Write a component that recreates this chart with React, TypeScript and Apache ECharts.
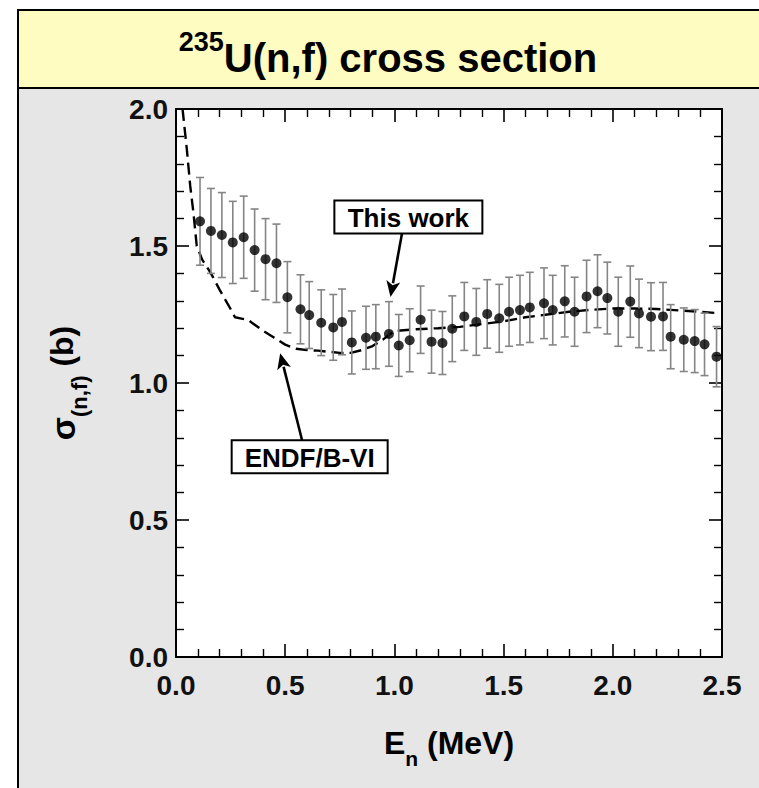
import React, { useEffect, useRef } from "react";
import * as echarts from "echarts";

// ---- Data ----
const energies = [
  0.11, 0.16, 0.21, 0.26, 0.31, 0.36, 0.41, 0.46, 0.51, 0.57, 0.61, 0.665,
  0.72, 0.76, 0.805, 0.87, 0.915, 0.975, 1.02, 1.07, 1.12, 1.17, 1.22, 1.265,
  1.32, 1.375, 1.425, 1.48, 1.525, 1.575, 1.62, 1.685, 1.725, 1.78, 1.825,
  1.88, 1.93, 1.975, 2.025, 2.08, 2.12, 2.175, 2.23, 2.265, 2.325, 2.375,
  2.42, 2.475,
];
const sigma = [
  1.59, 1.555, 1.54, 1.513, 1.532, 1.485, 1.452, 1.437, 1.313, 1.269, 1.248,
  1.22, 1.203, 1.223, 1.148, 1.165, 1.169, 1.179, 1.137, 1.156, 1.231, 1.151,
  1.146, 1.198, 1.243, 1.223, 1.252, 1.236, 1.26, 1.266, 1.276, 1.291, 1.266,
  1.298, 1.26, 1.316, 1.335, 1.31, 1.26, 1.297, 1.254, 1.242, 1.243, 1.169,
  1.158, 1.153, 1.141, 1.096,
];
const sigmaErr = [
  0.16, 0.155, 0.155, 0.15, 0.15, 0.15, 0.148, 0.143, 0.13, 0.126, 0.122,
  0.12, 0.12, 0.12, 0.115, 0.115, 0.117, 0.118, 0.113, 0.115, 0.123, 0.115,
  0.115, 0.12, 0.124, 0.122, 0.125, 0.124, 0.126, 0.127, 0.128, 0.129, 0.127,
  0.13, 0.126, 0.132, 0.133, 0.131, 0.126, 0.13, 0.125, 0.124, 0.124, 0.117,
  0.116, 0.115, 0.114, 0.11,
];
const endfE = [
  0.03, 0.05, 0.065, 0.08, 0.095, 0.12, 0.16, 0.2, 0.25, 0.27, 0.3, 0.33, 0.4,
  0.45, 0.5, 0.55, 0.6, 0.65, 0.7, 0.75, 0.8, 0.85, 0.9, 0.95, 1.0, 1.1, 1.2,
  1.3, 1.4, 1.5, 1.6, 1.7, 1.8, 1.9, 2.0, 2.1, 2.2, 2.3, 2.4, 2.48,
];
const endfSigma = [
  2.0, 1.85, 1.72, 1.62, 1.5, 1.45, 1.4, 1.34, 1.27, 1.24, 1.235, 1.23, 1.19,
  1.165, 1.14, 1.125, 1.12, 1.118, 1.114, 1.11, 1.11, 1.12, 1.135, 1.16, 1.19,
  1.196, 1.2, 1.205, 1.215, 1.225, 1.24, 1.25, 1.26, 1.267, 1.272, 1.272,
  1.27, 1.265, 1.26, 1.255,
];
const xTicks = [0, 2.5, 0.5];
const yTicks = [0, 2.0, 0.5];

const titleSup = "235";
const titleMain = "U(n,f) cross section";
const yLabel = ["σ", "(n,f)", " (b)"];
const xLabel = ["E", "n", " (MeV)"];

const FONT = "'Liberation Sans', Arial, Helvetica, sans-serif";

export default function App() {
  const ref = useRef<HTMLDivElement>(null);

  useEffect(() => {
    document.body.style.margin = "0";
    if (!ref.current) return;
    const chart = echarts.init(ref.current, null, { renderer: "svg" });

    const axisCommon = {
      type: "value",
      axisLine: { show: true, onZero: false, lineStyle: { color: "#000", width: 2 } },
      axisTick: { show: true, inside: true, length: 13, lineStyle: { color: "#000", width: 1.6 } },
      minorTick: { show: true, splitNumber: 5, length: 8, lineStyle: { color: "#000", width: 1.4 } },
      splitLine: { show: false },
      minorSplitLine: { show: false },
    };
    const labelStyle = {
      fontFamily: FONT,
      fontWeight: "bold",
      fontSize: 28,
      color: "#111",
      formatter: (v: number) => v.toFixed(1),
    };

    const errData = energies.map((e, i) => [e, sigma[i], sigmaErr[i]]);
    const ptData = energies.map((e, i) => [e, sigma[i]]);
    const endfData = endfE.map((e, i) => [e, endfSigma[i]]);

    const tok = (size: number, lh: number, va: string) => ({
      fontSize: size,
      fontWeight: "bold",
      fontFamily: FONT,
      lineHeight: lh,
      verticalAlign: va,
      fill: "#000",
    });

    const bgGraphics: any[] = [
      {
        id: "band",
        type: "rect",
        z: -10,
        shape: { x: 18, y: 10, width: 760, height: 78 },
        style: { fill: "#fffcc2", stroke: "#000", lineWidth: 2 },
      },
      {
        id: "panel",
        type: "rect",
        z: -10,
        shape: { x: 18, y: 88, width: 760, height: 720 },
        style: { fill: "#e6e6e6", stroke: "#000", lineWidth: 2 },
      },
      {
        id: "title",
        type: "text",
        z: 10,
        x: 388,
        y: 53,
        style: {
          text: `{s|${titleSup}}{m|${titleMain}}`,
          align: "center",
          verticalAlign: "middle",
          fill: "#000",
          rich: {
            s: tok(27, 30, "top"),
            m: tok(40, 50, "bottom"),
          },
        },
      },
      {
        id: "ylabel",
        type: "text",
        z: 10,
        x: 68,
        y: 383,
        rotation: Math.PI / 2,
        style: {
          text: `{g|${yLabel[0]}}{s|${yLabel[1]}}{m|${yLabel[2]}}`,
          align: "center",
          verticalAlign: "middle",
          fill: "#000",
          rich: {
            g: tok(34, 36, "top"),
            s: tok(22, 44, "bottom"),
            m: tok(32, 36, "top"),
          },
        },
      },
      {
        id: "xlabel",
        type: "text",
        z: 10,
        x: 449,
        y: 727,
        style: {
          text: `{m|${xLabel[0]}}{s|${xLabel[1]}}{m|${xLabel[2]}}`,
          align: "center",
          verticalAlign: "top",
          fill: "#000",
          rich: {
            s: tok(21, 42, "bottom"),
            m: tok(32, 36, "top"),
          },
        },
      },
    ];

    chart.setOption({
      animation: false,
      backgroundColor: "#fff",
      grid: { left: 176, right: 37, top: 109, bottom: 131, show: true, backgroundColor: "#fff", borderWidth: 0 },
      xAxis: [
        {
          ...axisCommon,
          position: "bottom",
          min: xTicks[0],
          max: xTicks[1],
          interval: xTicks[2],
          axisLabel: { ...labelStyle, margin: 14 },
        },
        {
          ...axisCommon,
          position: "top",
          min: xTicks[0],
          max: xTicks[1],
          interval: xTicks[2],
          axisLabel: { show: false },
        },
      ],
      yAxis: [
        {
          ...axisCommon,
          position: "left",
          min: yTicks[0],
          max: yTicks[1],
          interval: yTicks[2],
          axisLabel: { ...labelStyle, margin: 8 },
        },
        {
          ...axisCommon,
          position: "right",
          min: yTicks[0],
          max: yTicks[1],
          interval: yTicks[2],
          axisLabel: { show: false },
        },
      ],
      series: [
        {
          type: "line",
          name: "ENDF/B-VI",
          data: endfData,
          showSymbol: false,
          symbol: "none",
          smooth: false,
          clip: true,
          lineStyle: { color: "#000", width: 2.4, type: [12, 6] },
          z: 3,
        },
        {
          type: "custom",
          name: "errors",
          data: errData,
          z: 4,
          renderItem: (params: any, api: any) => {
            const x = api.value(0);
            const y = api.value(1);
            const e = api.value(2);
            const top = api.coord([x, y + e]);
            const bot = api.coord([x, y - e]);
            const cap = 4;
            const st = { stroke: "#858585", lineWidth: 1.6 };
            return {
              type: "group",
              children: [
                { type: "line", shape: { x1: top[0], y1: top[1], x2: bot[0], y2: bot[1] }, style: st },
                { type: "line", shape: { x1: top[0] - cap, y1: top[1], x2: top[0] + cap, y2: top[1] }, style: st },
                { type: "line", shape: { x1: bot[0] - cap, y1: bot[1], x2: bot[0] + cap, y2: bot[1] }, style: st },
              ],
            };
          },
        },
        {
          type: "scatter",
          name: "This work",
          data: ptData,
          symbol: "circle",
          symbolSize: 10,
          itemStyle: { color: "#000" },
          z: 5,
        },
      ],
      graphic: bgGraphics,
    });

    // Annotations anchored in data coordinates
    const annots = [
      { id: "tw", text: "This work", box: [1.064, 1.606], w: 148, h: 33, from: [1.035, 1.547], to: [0.982, 1.314] },
      { id: "endf", text: "ENDF/B-VI", box: [0.612, 0.731], w: 156, h: 33, from: [0.577, 0.792], to: [0.477, 1.109] },
    ];
    const ann: any[] = [];
    annots.forEach((a) => {
      const c = chart.convertToPixel({ gridIndex: 0 } as any, a.box) as number[];
      const f = chart.convertToPixel({ gridIndex: 0 } as any, a.from) as number[];
      const t = chart.convertToPixel({ gridIndex: 0 } as any, a.to) as number[];
      ann.push({
        id: a.id + "-box",
        type: "rect",
        z: 50,
        shape: { x: c[0] - a.w / 2, y: c[1] - a.h / 2, width: a.w, height: a.h },
        style: { fill: "#fff", stroke: "#000", lineWidth: 2 },
      });
      ann.push({
        id: a.id + "-txt",
        type: "text",
        z: 51,
        x: c[0],
        y: c[1] + 1,
        style: {
          text: a.text,
          align: "center",
          verticalAlign: "middle",
          fontSize: 26,
          fontWeight: "bold",
          fontFamily: FONT,
          fill: "#000",
        },
      });
      const dx = t[0] - f[0];
      const dy = t[1] - f[1];
      const len = Math.sqrt(dx * dx + dy * dy);
      const ux = dx / len;
      const uy = dy / len;
      const hl = 16;
      const hw = 7;
      const bx = t[0] - ux * hl;
      const by = t[1] - uy * hl;
      ann.push({
        id: a.id + "-line",
        type: "line",
        z: 50,
        shape: { x1: f[0], y1: f[1], x2: bx + ux * 2, y2: by + uy * 2 },
        style: { stroke: "#000", lineWidth: 2.6 },
      });
      ann.push({
        id: a.id + "-head",
        type: "polygon",
        z: 50,
        shape: {
          points: [
            [t[0], t[1]],
            [bx - uy * hw, by + ux * hw],
            [bx + ux * 4, by + uy * 4],
            [bx + uy * hw, by - ux * hw],
          ],
        },
        style: { fill: "#000" },
      });
    });
    chart.setOption({ graphic: [...bgGraphics, ...ann] });

    return () => chart.dispose();
  }, []);

  return <div ref={ref} style={{ width: 759, height: 788 }} />;
}
